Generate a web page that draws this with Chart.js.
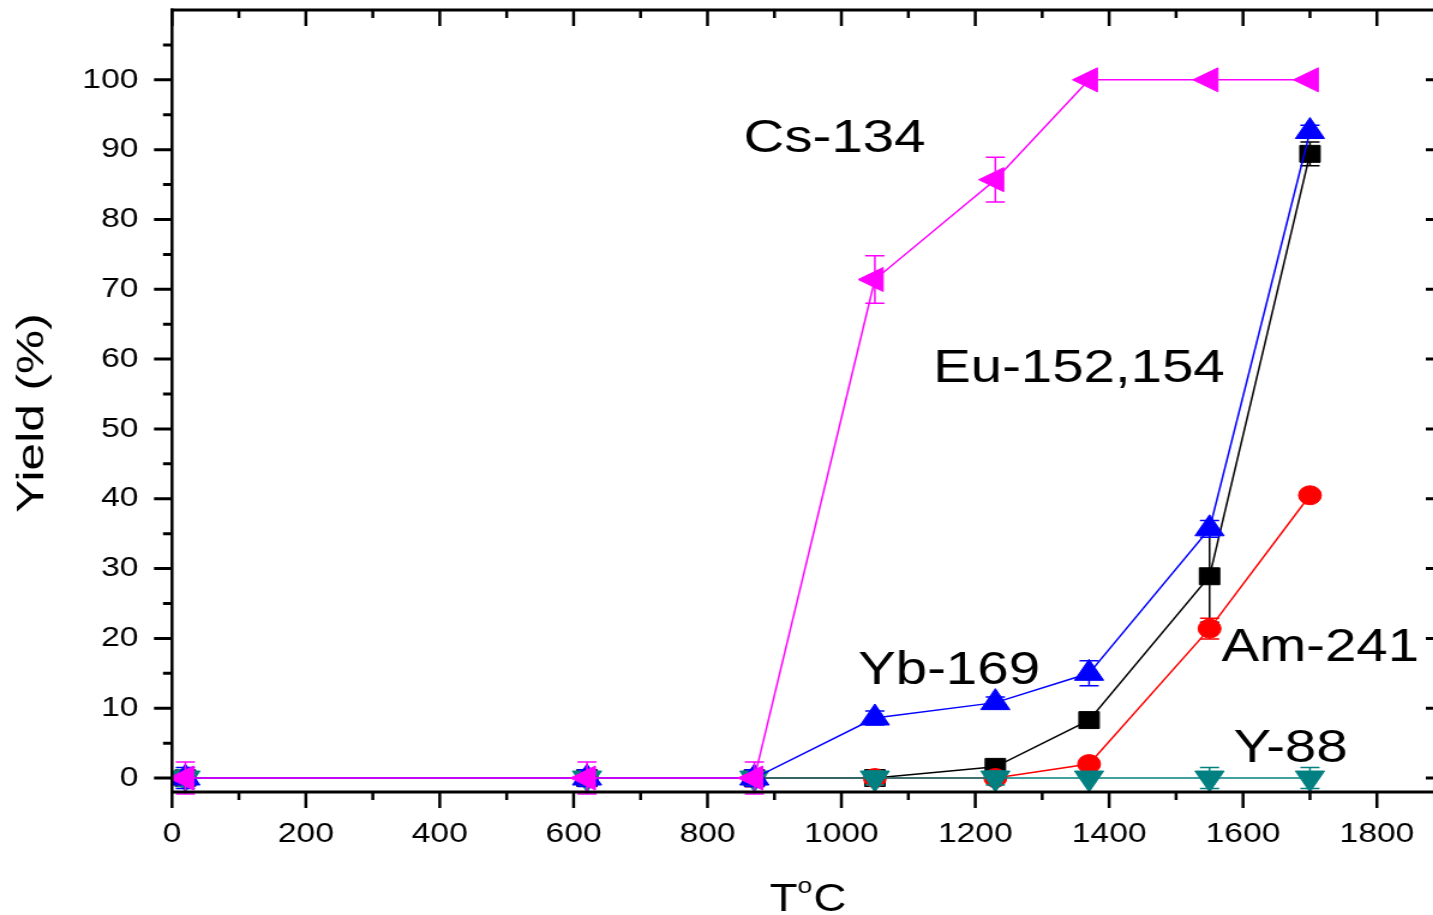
<!DOCTYPE html>
<html>
<head>
<meta charset="utf-8">
<script src="https://cdn.jsdelivr.net/npm/chart.js@4.4.1/dist/chart.umd.min.js"></script>
<style>
  html, body { margin: 0; padding: 0; background: #fff; overflow: hidden; }
  /* the original figure is stretched sideways and cut at the right frame,
     so draw narrow, widen it, and let the page clip the last few pixels */
  #wrap { width: 1203px; height: 915px; transform: scaleX(1.2002); transform-origin: 0 0; }
</style>
</head>
<body>
<div id="wrap"><canvas id="yieldChart" width="1203" height="915"></canvas></div>
<script>
// temperatures (°C)
const temps = [20, 620, 870, 1050, 1230, 1370, 1550, 1700];

// yields (%) and their error bars
const cs134 = [0, 0, 0, 71.4, 85.7, 100, 100, 100];
const cs134Err = [2.3, 2.3, 2.3, 3.4, 3.2, 0, 0, 0];
const yb169 = [0, 0, 0, 8.6, 10.8, 15.0, 35.7, 92.6];
const yb169Err = [1.5, 1.2, 1.2, 1.0, 0.8, 1.8, 1.2, 0.9];
const y88 = [0, 0, 0, 0, 0, 0, 0, 0];
const y88Err = [1.2, 1.0, 1.0, 1.0, 1.0, 0, 1.5, 1.5];
const am241 = [0, 0, 0, 0, 0, 2.0, 21.4, 40.5];
const am241Err = [1.0, 1.0, 1.2, 0.8, 0.6, 0.4, 1.5, 0.3];
const eu152 = [0, 0, 0, 0, 1.6, 8.3, 28.9, 89.4];
const eu152Err = [1.0, 1.0, 1.2, 0.6, 0.8, 0.5, 6.6, 1.7];

// axis ticks
const xTicks = [0, 200, 400, 600, 800, 1000, 1200, 1400, 1600, 1800];
const xMinor = [100, 300, 500, 700, 900, 1100, 1300, 1500, 1700, 1900];
const yTicks = [0, 10, 20, 30, 40, 50, 60, 70, 80, 90, 100];
const yMinor = [5, 15, 25, 35, 45, 55, 65, 75, 85, 95, 105];

const FONT = '"Liberation Sans", Arial, sans-serif';

const pts = (ys) => temps.map((t, i) => ({ x: t, y: ys[i] }));

function series(label, ys, errs, color, style, rotation, radius) {
  return {
    label: label,
    data: pts(ys),
    errorBars: errs,
    borderColor: color,
    backgroundColor: color,
    borderWidth: 1.5,
    pointStyle: style,
    pointRotation: rotation,
    pointRadius: radius,
    pointBorderWidth: 1,
    pointBorderColor: color,
    pointBackgroundColor: color,
    tension: 0,
    clip: false
  };
}

// error bars, drawn under each series' markers
const errorBars = {
  id: 'errorBars',
  beforeDatasetDraw(chart, args) {
    const ds = chart.data.datasets[args.index];
    if (!ds.errorBars) return;
    const { ctx, scales: { x, y } } = chart;
    ctx.save();
    ctx.strokeStyle = ds.borderColor;
    ctx.lineWidth = 1.5;
    ds.data.forEach((p, i) => {
      const e = ds.errorBars[i];
      if (!e) return;
      const px = x.getPixelForValue(p.x);
      const top = y.getPixelForValue(p.y + e);
      const bot = y.getPixelForValue(p.y - e);
      ctx.beginPath();
      ctx.moveTo(px, top); ctx.lineTo(px, bot);
      ctx.moveTo(px - 8, top); ctx.lineTo(px + 8, top);
      ctx.moveTo(px - 8, bot); ctx.lineTo(px + 8, bot);
      ctx.stroke();
    });
    ctx.restore();
  }
};

// box, ticks on all four sides, axis titles and series labels
const frame = {
  id: 'frame',
  afterDraw(chart, args, opts) {
    const { ctx, chartArea: a, scales: { x, y } } = chart;
    ctx.save();
    ctx.strokeStyle = '#000';
    ctx.lineCap = 'butt';

    ctx.lineWidth = 2.5;
    const xTick = (v, len) => {
      const px = x.getPixelForValue(v);
      ctx.beginPath();
      ctx.moveTo(px, a.bottom); ctx.lineTo(px, a.bottom + len);
      ctx.moveTo(px, a.top); ctx.lineTo(px, a.top + len);
      ctx.stroke();
    };
    xTicks.forEach(v => xTick(v, 16));
    xMinor.forEach(v => xTick(v, 8));

    ctx.lineWidth = 3;
    const yTick = (v, len) => {
      const py = y.getPixelForValue(v);
      ctx.beginPath();
      ctx.moveTo(a.left, py); ctx.lineTo(a.left - len, py);
      ctx.moveTo(a.right, py); ctx.lineTo(a.right - len, py);
      ctx.stroke();
    };
    yTicks.forEach(v => yTick(v, 15));
    yMinor.forEach(v => yTick(v, 7.5));

    ctx.beginPath();
    ctx.moveTo(a.left - 1.25, a.top); ctx.lineTo(a.right, a.top);
    ctx.moveTo(a.left - 1.25, a.bottom); ctx.lineTo(a.right, a.bottom);
    ctx.stroke();
    ctx.lineWidth = 2.5;
    ctx.beginPath();
    ctx.moveTo(a.left, a.top - 1.5); ctx.lineTo(a.left, a.bottom + 1.5);
    ctx.moveTo(a.right, a.top - 1.5); ctx.lineTo(a.right, a.bottom + 1.5);
    ctx.stroke();

    ctx.fillStyle = '#000';

    // series labels
    ctx.font = '47px ' + FONT;
    ctx.textAlign = 'left';
    ctx.textBaseline = 'alphabetic';
    opts.labels.forEach(l => {
      ctx.fillText(l.text, x.getPixelForValue(l.at[0]), y.getPixelForValue(l.at[1]));
    });

    // y title
    ctx.save();
    ctx.translate(35.8, (a.top + a.bottom) / 2 + 12);
    ctx.rotate(-Math.PI / 2);
    ctx.scale(1.6, 1);
    ctx.font = '31px ' + FONT;
    ctx.textAlign = 'center';
    ctx.fillText('Yield (%)', 0, 0);
    ctx.restore();

    // x title: T with superscript o, then C
    const base = 911;
    ctx.font = '38px ' + FONT;
    const wT = ctx.measureText('T').width;
    const wC = ctx.measureText('C').width;
    ctx.font = '22px ' + FONT;
    const wO = ctx.measureText('o').width;
    const total = wT + wO + wC + 1;
    let cx = (a.left + a.right) / 2 - total / 2;
    ctx.textAlign = 'left';
    ctx.font = '38px ' + FONT;
    ctx.fillText('T', cx, base);
    ctx.font = '22px ' + FONT;
    ctx.fillText('o', cx + wT, base - 18);
    ctx.font = '38px ' + FONT;
    ctx.fillText('C', cx + wT + wO + 1, base);

    ctx.restore();
  }
};

const noPad = (s) => {
  s.paddingTop = 0; s.paddingBottom = 0; s.paddingLeft = 0; s.paddingRight = 0;
};

const ctx = document.getElementById('yieldChart').getContext('2d');
const yieldChart = new Chart(ctx, {
  type: 'line',
  data: {
    datasets: [
      series('Cs-134', cs134, cs134Err, '#ff00ff', 'triangle', -90, 13.9),
      series('Yb-169', yb169, yb169Err, '#0000ff', 'triangle', 0, 14),
      series('Y-88', y88, y88Err, '#008080', 'triangle', 180, 14),
      series('Am-241', am241, am241Err, '#ff0000', 'circle', 0, 9.5),
      series('Eu-152,154', eu152, eu152Err, '#000000', 'rect', 0, 12)
    ]
  },
  options: {
    responsive: false,
    animation: false,
    devicePixelRatio: 1,
    layout: { autoPadding: false, padding: { top: 10, right: 0, bottom: 0, left: 0 } },
    plugins: {
      legend: { display: false },
      tooltip: { enabled: false },
      frame: {
        labels: [
          { text: 'Cs-134', at: [854, 89.6] },
          { text: 'Eu-152,154', at: [1137, 56.7] },
          { text: 'Yb-169', at: [1025, 13.4] },
          { text: 'Am-241', at: [1568, 16.7] },
          { text: 'Y-88', at: [1586, 2.3] }
        ]
      }
    },
    scales: {
      x: {
        type: 'linear',
        min: 0,
        max: 1900,
        grid: { display: false, drawTicks: false, tickLength: 0 },
        border: { display: false },
        afterBuildTicks: (s) => { s.ticks = xTicks.map(v => ({ value: v })); },
        afterFit: (s) => { s.height = 123; noPad(s); },
        ticks: {
          autoSkip: false,
          maxRotation: 0,
          padding: 25,
          color: '#000',
          font: { family: FONT, size: 28 },
          callback: (v) => String(v)
        }
      },
      y: {
        type: 'linear',
        min: -2,
        max: 110,
        grid: { display: false, drawTicks: false, tickLength: 0 },
        border: { display: false },
        afterBuildTicks: (s) => { s.ticks = yTicks.map(v => ({ value: v })); },
        afterFit: (s) => { s.width = 143.3; noPad(s); },
        ticks: {
          autoSkip: false,
          padding: 28,
          color: '#000',
          font: { family: FONT, size: 28 },
          callback: (v) => String(v)
        }
      }
    }
  },
  plugins: [errorBars, frame]
});
</script>
</body>
</html>
